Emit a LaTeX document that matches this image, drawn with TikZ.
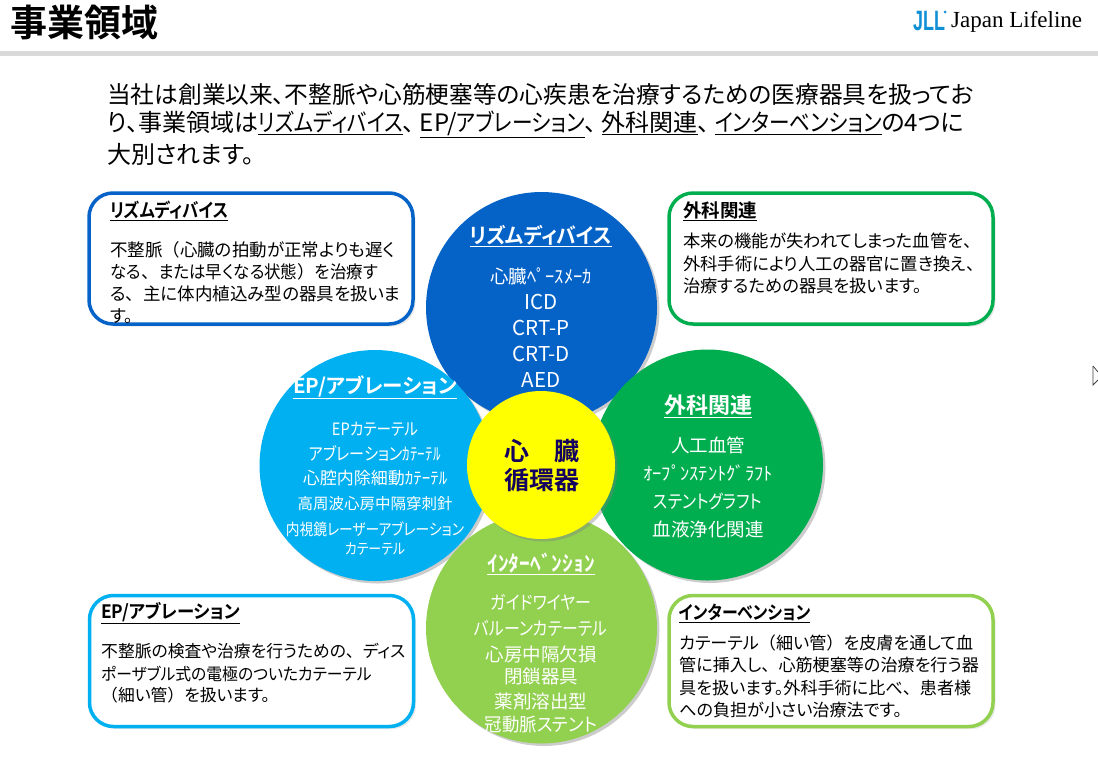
\documentclass[tikz,border=0pt]{standalone}
\usepackage{fontspec}
\setmainfont{Noto Sans CJK JP}[RawFeature=+palt,BoldFont={Noto Sans CJK JP Bold}]
\newfontfamily\kanafont{Noto Sans CJK JP}[RawFeature=+palt,FakeStretch=.86,BoldFont={Noto Sans CJK JP Bold}]
\newfontfamily\narrowfont{Noto Sans CJK JP}[RawFeature=+palt,FakeStretch=.94,BoldFont={Noto Sans CJK JP Bold}]
\newfontfamily\fullfont{Noto Sans CJK JP}
\newfontfamily\logofont{Liberation Serif}
\newfontfamily\markfont{Liberation Sans}[FakeStretch=.64]
\usepackage{tikz}
\usetikzlibrary{shadows}
\definecolor{jlblue}{HTML}{0563C8}
\definecolor{jlcyan}{HTML}{00B0F0}
\definecolor{jlgreen}{HTML}{00AE4F}
\definecolor{jllime}{HTML}{92D050}
\definecolor{jlyellow}{HTML}{FFFF00}
\definecolor{jlnavy}{HTML}{14005F}
\definecolor{jlrule}{HTML}{D9D9D9}
\definecolor{jlmark}{HTML}{0F8FD6}
\newcommand{\fs}[1]{\fontsize{#1}{#1}\selectfont}
\newcommand{\lp}{{\fullfont （}}
\newcommand{\rp}{{\fullfont ）}}
\newcommand{\ten}{{\fullfont 、}}
\newcommand{\tenb}{\ten\hspace{-7pt}}
\tikzset{
  ball/.style={circle,minimum size=231pt,inner sep=0pt,drop shadow={opacity=.4,shadow xshift=2.5pt,shadow yshift=-2.5pt}},
  infobox/.style={draw,fill=white,line width=3.5pt,rounded corners=24pt,minimum width=324pt,minimum height=131pt,drop shadow={opacity=.18,shadow xshift=2.5pt,shadow yshift=-2.5pt}},
  balltext/.style={text=white,inner sep=0pt},
  boxtext/.style={anchor=west,inner sep=0pt},
  boxhead/.style={anchor=west,inner sep=0pt,font=\fs{18}\bfseries},
  introtext/.style={anchor=west,inner sep=0pt,font=\fs{24}},
}
\begin{document}
\begin{tikzpicture}[x=1pt,y=-1pt]
  \useasboundingbox (0,0) rectangle (1098,756);
  % header
  \node[anchor=west,inner sep=0pt,font=\fs{37}\bfseries] (title) at (10,22) {事業領域};
  \fill[jlrule] (0,51) rectangle (1098,56);
  \node[anchor=west,inner sep=0pt,text=jlmark,font=\markfont\fs{28}\bfseries] (logomark) at (913,21) {JLL};
  \fill[jlmark] (945,12) circle (1.5pt);
  \node[anchor=west,inner sep=0pt,font=\logofont\fs{23}] (logotext) at (951,22) {Japan Lifeline};
  % intro
  \node[introtext,font=\fs{23.7}] (intro1) at (107,94) {当社は創業以来、不整脈や心筋梗塞等の心疾患を治療するための医療器具を扱ってお};
  \node[introtext] (intro2) at (107,124) {り、事業領域は\underline{\kanafont リズムディバイス}\tenb\underline{EP/\kanafont アブレーション}\tenb\underline{外科関連}\tenb\underline{\kanafont インターベンション}の4つに};
  \node[introtext] (intro3) at (107,154) {大別されます。};
  % boxes
  \node[infobox,draw=jlblue] (boxrhythm) at (251,258.5) {};
  \node[infobox,draw=jlgreen] (boxsurgery) at (831,258.5) {};
  \node[infobox,draw=jlcyan] (boxep) at (251.5,661) {};
  \node[infobox,draw=jllime] (boxinter) at (831,661) {};
  \node[boxhead,font=\fs{19}\bfseries\kanafont] (headrhythm) at (110,211) {\underline{リズムディバイス}};
  \node[boxhead,font=\fs{18.5}\bfseries] (headsurgery) at (683,211) {\underline{外科関連}};
  \node[boxhead,font=\fs{18.5}\bfseries\narrowfont] (headep) at (101,613) {\underline{EP/アブレーション}};
  \node[boxhead,font=\fs{18.5}\bfseries\kanafont] (headinter) at (679,613) {\underline{インターベンション}};
  \foreach \y/\t [count=\i] in {250/不整脈\lp 心臓の拍動が正常よりも遅く,272/{\narrowfont なる}\ten{\narrowfont または早くなる状態}\rp{\narrowfont を治療す},294/る\ten 主に体内植込み型の器具を扱いま,316/す。}
    \node[boxtext,font=\fs{17.5}] (rhythm\i) at (110,\y) {\t};
  \foreach \y/\t [count=\i] in {241/本来の機能が失われてしまった血管を\ten,264/外科手術により人工の器官に置き換え\ten,286/治療するための器具を扱います。}
    \node[boxtext,font=\fs{17.3}] (surgery\i) at (683,\y) {\t};
  \foreach \y/\t [count=\i] in {651/不整脈の検査や治療を行うための\ten ディス,674/{\narrowfont ポーザブル式の電極のついたカテーテル},695/\lp 細い管\rp を扱います。}
    \node[boxtext,font=\fs{16.8}] (ep\i) at (101,\y) {\t};
  \foreach \y/\t [count=\i] in {643/カテーテル\lp 細い管\rp を皮膚を通して血,665/管に挿入し\ten 心筋梗塞等の治療を行う器,688/具を扱います。外科手術に比べ\ten 患者様,710/への負担が小さい治療法です。}
    \node[boxtext,font=\fs{17.1}] (inter\i) at (679,\y) {\t};
  % circles
  \node[ball,fill=jlblue] (ballrhythm) at (541.5,307.5) {};
  \node[ball,fill=jlgreen] (ballsurgery) at (707.5,465) {};
  \node[ball,fill=jlcyan] (ballep) at (375,465.5) {};
  \node[ball,fill=jllime] (ballinter) at (541.5,628) {};
  \node[ball,fill=jlyellow,minimum size=148pt] (ballheart) at (541,465) {};
  % circle texts
  \node[balltext,font=\fs{21}\bfseries\narrowfont] (titlerhythm) at (541,236) {\underline{リズムディバイス}};
  \foreach \y/\t/\s [count=\i] in {276/心臓ﾍﾟｰｽﾒｰｶ/18.5,302/ICD/20.5,328/CRT-P/20.5,354/CRT-D/20.5,380/AED/20.5}
    \node[balltext,font=\fs{\s}] (itemrhythm\i) at (541,\y) {\t};
  \node[balltext,font=\fs{20.5}\bfseries] (titleep) at (375,387) {\underline{EP/アブレーション}};
  \foreach \y/\t/\s [count=\i] in {429/{\kanafont EPカテーテル}/17,453/{\kanafont アブレーションｶﾃｰﾃﾙ}/17.5,478/心腔内除細動ｶﾃｰﾃﾙ/17,504/高周波心房中隔穿刺針/15.5,529/{\kanafont 内視鏡レーザーアブレーション}/16,549/{\kanafont カテーテル}/15}
    \node[balltext,font=\fs{\s}] (itemep\i) at (375,\y) {\t};
  \node[balltext,font=\fs{22}\bfseries] (titlesurgery) at (708,406) {\underline{外科関連}};
  \foreach \y/\t/\s [count=\i] in {445/人工血管/18.5,473/ｵｰﾌﾟﾝｽﾃﾝﾄｸﾞﾗﾌﾄ/18.5,501/{\kanafont ステントグラフト}/18.5,529/血液浄化関連/18.5}
    \node[balltext,font=\fs{\s}] (itemsurgery\i) at (708,\y) {\t};
  \node[balltext,font=\fs{21.5}\bfseries] (titleinter) at (541,564) {\underline{ｲﾝﾀｰﾍﾞﾝｼｮﾝ}};
  \foreach \y/\t [count=\i] in {602/{\kanafont ガイドワイヤー},628/{\kanafont バルーンカテーテル},654/心房中隔欠損,676/閉鎖器具,702/薬剤溶出型,725/{\narrowfont 冠動脈ステント}}
    \node[balltext,font=\fs{18.5}] (iteminter\i) at (541,\y) {\t};
  \node[inner sep=0pt,text=jlnavy,font=\fs{25}\bfseries] (heart1) at (542,451) {心　臓};
  \node[inner sep=0pt,text=jlnavy,font=\fs{25}\bfseries] (heart2) at (542,480) {循環器};
  % pointer at the right edge
  \draw[black!75,line width=.8pt] (1093,366) -- (1093,385) -- (1098,380);
  \draw[black!75,line width=.8pt] (1093,366) -- (1098,372);
\end{tikzpicture}
\end{document}
